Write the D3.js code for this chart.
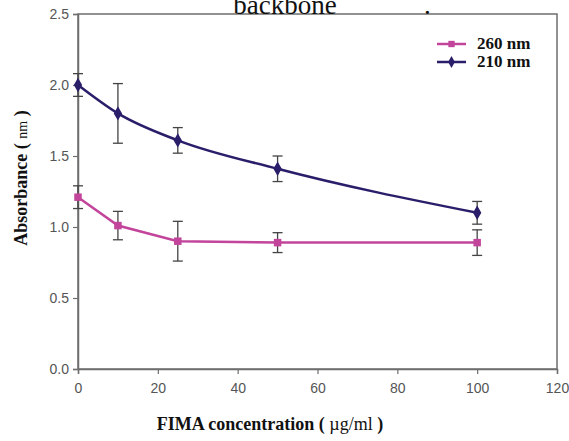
<!DOCTYPE html>
<html>
<head>
<meta charset="utf-8">
<script src="https://cdn.jsdelivr.net/npm/d3@7"></script>
<style>
  body { margin: 0; background: #fff; }
  svg { display: block; }
</style>
</head>
<body>
<div id="chart"></div>
<script>
// concentrations (µg/ml)
const conc = [0, 10, 25, 50, 100];
// absorbance at 260 nm and 210 nm with error bar half-widths
const abs260 = [1.21, 1.01, 0.90, 0.89, 0.89];
const err260 = [0.08, 0.10, 0.14, 0.07, 0.09];
const abs210 = [2.00, 1.80, 1.61, 1.41, 1.10];
const err210 = [0.08, 0.21, 0.09, 0.09, 0.08];
const xTicks = [0, 20, 40, 60, 80, 100, 120];
const yTicks = [0, 0.5, 1.0, 1.5, 2.0, 2.5];

const width = 569, height = 441;
const margin = { left: 78, right: 12, top: 14, bottom: 72 };

const svg = d3.select('#chart').append('svg')
  .attr('width', width)
  .attr('height', height);

const x = d3.scaleLinear().domain([0, 120]).range([margin.left, width - margin.right]);
const y = d3.scaleLinear().domain([0, 2.5]).range([height - margin.bottom, margin.top]);

// frame
svg.append('rect')
  .attr('x', x(0)).attr('y', y(2.5))
  .attr('width', x(120) - x(0)).attr('height', y(0) - y(2.5))
  .attr('fill', 'none').attr('stroke', '#6e6e6e').attr('stroke-width', 1.5);

// axes
const xAxis = svg.append('g')
  .attr('transform', `translate(0, ${y(0)})`)
  .call(d3.axisBottom(x).tickValues(xTicks).tickSize(5).tickPadding(9).tickFormat(d3.format('d')));
const yAxis = svg.append('g')
  .attr('transform', `translate(${x(0)}, 0)`)
  .call(d3.axisLeft(y).tickValues(yTicks).tickSize(5).tickPadding(4).tickFormat(d3.format('.1f')));

[xAxis, yAxis].forEach(g => {
  g.select('.domain').attr('stroke', '#6e6e6e').attr('stroke-width', 1.5);
  g.selectAll('.tick line').attr('stroke', '#6e6e6e').attr('stroke-width', 1.2);
  g.selectAll('.tick text')
    .attr('fill', '#555')
    .style('font-family', 'Liberation Sans, Arial, sans-serif')
    .style('font-size', '14px');
});

// series
const series = [
  { name: '260 nm', vals: abs260, errs: err260, color: '#c2449b', marker: 'square', curve: d3.curveLinear },
  { name: '210 nm', vals: abs210, errs: err210, color: '#2a1d6a', marker: 'diamond', curve: d3.curveMonotoneX }
];

series.forEach(s => {
  const pts = conc.map((c, i) => ({ c, v: s.vals[i], e: s.errs[i] }));

  svg.append('path')
    .datum(pts)
    .attr('fill', 'none')
    .attr('stroke', s.color)
    .attr('stroke-width', 2.5)
    .attr('d', d3.line().x(d => x(d.c)).y(d => y(d.v)).curve(s.curve));

  // error bars
  const eb = svg.append('g').attr('stroke', '#444').attr('stroke-width', 1.3);
  pts.forEach(p => {
    eb.append('line')
      .attr('x1', x(p.c)).attr('x2', x(p.c))
      .attr('y1', y(p.v + p.e)).attr('y2', y(p.v - p.e));
    [p.v + p.e, p.v - p.e].forEach(v => {
      eb.append('line')
        .attr('x1', x(p.c) - 5).attr('x2', x(p.c) + 5)
        .attr('y1', y(v)).attr('y2', y(v));
    });
  });

  const sym = d3.symbol()
    .type(s.marker === 'square' ? d3.symbolSquare : d3.symbolDiamond)
    .size(s.marker === 'square' ? 56 : 60);
  svg.append('g').selectAll('path')
    .data(pts)
    .join('path')
    .attr('transform', d => `translate(${x(d.c)}, ${y(d.v)})`)
    .attr('d', sym)
    .attr('fill', s.color);
});

// legend
const legend = svg.append('g');
series.forEach((s, i) => {
  const ly = 44 + i * 18;
  legend.append('line')
    .attr('x1', 437).attr('x2', 466)
    .attr('y1', ly).attr('y2', ly)
    .attr('stroke', s.color).attr('stroke-width', 2.5);
  legend.append('path')
    .attr('transform', `translate(451.5, ${ly})`)
    .attr('d', d3.symbol().type(s.marker === 'square' ? d3.symbolSquare : d3.symbolDiamond).size(40))
    .attr('fill', s.color);
  legend.append('text')
    .attr('x', 477).attr('y', ly + 5)
    .style('font-family', 'Liberation Serif, Times New Roman, serif')
    .style('font-weight', 'bold')
    .style('font-size', '17px')
    .attr('fill', '#111')
    .text(s.name);
});

// axis titles
const xt = svg.append('text')
  .attr('x', 270).attr('y', 430)
  .attr('text-anchor', 'middle')
  .style('font-family', 'Liberation Serif, Times New Roman, serif')
  .style('font-size', '18px')
  .attr('fill', '#111');
xt.append('tspan').style('font-weight', 'bold').text('FIMA concentration ( ');
xt.append('tspan').text('µg/ml');
xt.append('tspan').style('font-weight', 'bold').text(' )');

const yt = svg.append('text')
  .attr('transform', `translate(27, 178) rotate(-90)`)
  .attr('text-anchor', 'middle')
  .style('font-family', 'Liberation Serif, Times New Roman, serif')
  .style('font-size', '18px')
  .attr('fill', '#111');
yt.append('tspan').style('font-weight', 'bold').text('Absorbance ( ');
yt.append('tspan').style('font-size', '14px').text('nm');
yt.append('tspan').style('font-weight', 'bold').text(' )');

// caption fragment above the plot (clipped by the top edge, as in the source)
svg.append('text')
  .attr('x', 285).attr('y', 14)
  .attr('text-anchor', 'middle')
  .style('font-family', 'Liberation Serif, Times New Roman, serif')
  .style('font-size', '27px')
  .attr('fill', '#111')
  .text('backbone');
svg.append('text')
  .attr('x', 424).attr('y', 14)
  .style('font-family', 'Liberation Serif, Times New Roman, serif')
  .style('font-size', '27px')
  .attr('fill', '#111')
  .text('.');
</script>
</body>
</html>
